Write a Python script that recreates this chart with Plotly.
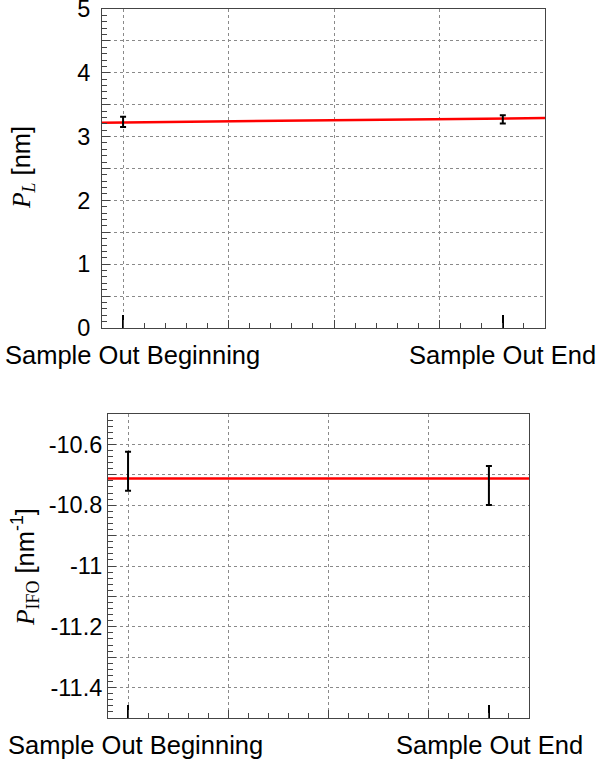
import plotly.graph_objects as go

# x positions of the two measurements (arbitrary run axis)
run_x = [0.0, 3.6]
run_labels = ["Sample Out Beginning", "Sample Out End"]

# top panel: P_L [nm]
pl_vals = [3.23, 3.27]
pl_errs = [0.08, 0.065]
pl_fit_x = [-0.2, 4.0]
pl_fit_y = [3.218, 3.29]

# bottom panel: P_IFO [nm^-1]
pifo_vals = [-10.688, -10.735]
pifo_errs = [0.064, 0.064]
pifo_fit_x = [-0.2, 4.0]
pifo_fit_y = [-10.712, -10.712]

X_RANGE = [-0.2, 4.0]
FONT = "Liberation Sans, Arial, sans-serif"
SERIF = "Liberation Serif, Times New Roman, serif"
FRAME = "#444"
GRID = "#8a8a8a"
FS = 25.5
TICK_FS = 23.5

fig = go.Figure()


def add_panel(vals, errs, fit_x, fit_y, xa, ya, xg, shifts):
    fig.add_trace(go.Scatter(
        x=fit_x, y=fit_y, mode="lines",
        line=dict(color="red", width=2.5),
        xaxis=xa, yaxis=ya, hoverinfo="skip",
    ))
    fig.add_trace(go.Scatter(
        x=run_x, y=vals, mode="markers",
        marker=dict(size=1, color="black"),
        error_y=dict(type="data", array=errs, color="black", thickness=2, width=3),
        xaxis=xa, yaxis=ya,
    ))
    # invisible trace to carry the gridline axis
    fig.add_trace(go.Scatter(
        x=[X_RANGE[0]], y=[vals[0]], mode="markers",
        marker=dict(size=0.1, opacity=0), xaxis=xg, yaxis=ya, hoverinfo="skip",
    ))
    # run labels below the axis
    for xv, txt, dx in zip(run_x, run_labels, shifts):
        fig.add_annotation(
            x=xv, y=0, xref=xa, yref=f"{ya} domain", text=txt,
            xanchor="center", yanchor="middle", xshift=dx, yshift=-27,
            showarrow=False, font=dict(family=FONT, size=FS, color="black"),
        )


add_panel(pl_vals, pl_errs, pl_fit_x, pl_fit_y, "x", "y", "x3", [9, 0])
add_panel(pifo_vals, pifo_errs, pifo_fit_x, pifo_fit_y, "x2", "y2", "x4", [7, 1])

top_dom = [0.1711, 0.9144]
bot_dom = [0.1812, 0.8876]

label_ax = dict(
    range=X_RANGE, tickmode="array", tickvals=run_x, showticklabels=False,
    ticks="inside", ticklen=13, tickwidth=2, tickcolor="black",
    showgrid=False, zeroline=False, showline=True, linecolor=FRAME,
    linewidth=1, mirror=True, automargin=False,
)
grid_ax = dict(
    range=X_RANGE, dtick=1, tick0=0, ticks="inside", ticklen=8, tickcolor=FRAME,
    showticklabels=False, showgrid=True, gridcolor=GRID, griddash="dot",
    gridwidth=1, zeroline=False, showline=False, automargin=False,
    minor=dict(dtick=0.2, tick0=0, ticks="inside", ticklen=5, tickcolor=FRAME,
               showgrid=False),
)

top_ticks = [0, 0.5, 1, 1.5, 2, 2.5, 3, 3.5, 4, 4.5, 5]
top_text = ["0", "", "1", "", "2", "", "3", "", "4", "", "5"]
bot_ticks = [-11.5, -11.4, -11.3, -11.2, -11.1, -11.0, -10.9, -10.8, -10.7, -10.6, -10.5]
bot_text = ["", "-11.4", "", "-11.2", "", "-11", "", "-10.8", "", "-10.6", ""]


def y_ax(rng, tv, tt, minor_dt, dom, anchor, standoff):
    return dict(
        range=rng, domain=dom, anchor=anchor, tickmode="array", tickvals=tv, ticktext=tt,
        ticks="inside", ticklen=8, tickcolor=FRAME,
        showgrid=True, gridcolor=GRID, griddash="dot", gridwidth=1,
        zeroline=False, showline=True, linecolor=FRAME, linewidth=1, mirror=True,
        tickfont=dict(family=FONT, size=TICK_FS, color="black"),
        automargin=False, ticklabeloverflow="allow", ticklabelstandoff=standoff,
        minor=dict(dtick=minor_dt, tick0=0, ticks="inside", ticklen=5,
                   tickcolor=FRAME, showgrid=False),
    )


fig.update_layout(
    width=596, height=767,
    margin=dict(l=0, r=0, t=0, b=0),
    paper_bgcolor="white", plot_bgcolor="white",
    showlegend=False,
    font=dict(family=FONT, size=FS, color="black"),
    xaxis=dict(label_ax, domain=top_dom, anchor="y"),
    xaxis3=dict(grid_ax, domain=top_dom, anchor="y", overlaying="x"),
    xaxis2=dict(label_ax, domain=bot_dom, anchor="y2"),
    xaxis4=dict(grid_ax, domain=bot_dom, anchor="y2", overlaying="x2"),
    yaxis=y_ax([0, 5], top_ticks, top_text, 0.1, [0.5724, 0.9883], "x", 6),
    yaxis2=y_ax([-11.5, -10.5], bot_ticks, bot_text, 0.02, [0.0639, 0.4602], "x2", 0),
)

fig.add_annotation(
    text=f"<span style='font-family:{SERIF}'><i>P</i><sub><i>L</i></sub></span> [nm]",
    xref="paper", yref="paper", x=23 / 596, y=1 - 168 / 767,
    xanchor="center", yanchor="middle",
    textangle=-90, showarrow=False, font=dict(family=FONT, size=FS),
)
fig.add_annotation(
    text=f"<span style='font-family:{SERIF}'><i>P</i><sub>IFO</sub></span> [nm<sup>-1</sup>]",
    xref="paper", yref="paper", x=25 / 596, y=1 - 567 / 767,
    xanchor="center", yanchor="middle",
    textangle=-90, showarrow=False, font=dict(family=FONT, size=FS),
)

fig.write_html(
    "out.html",
    config={"displayModeBar": False},
    post_script="document.body.style.margin='0';",
)
